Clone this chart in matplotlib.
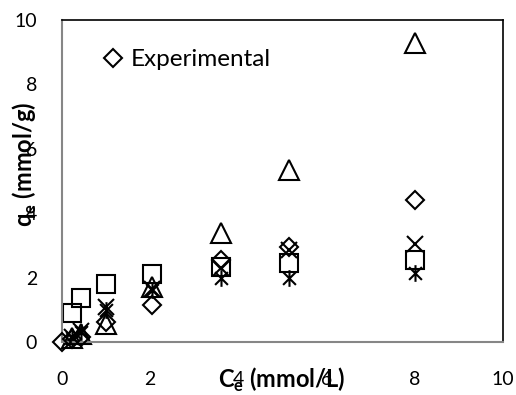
import numpy as np
import matplotlib.pyplot as plt
from matplotlib.path import Path
from matplotlib.lines import Line2D

plt.rcParams['font.family'] = ['Lato', 'DejaVu Sans']

# equilibrium concentration (mmol/L) and uptake (mmol/g)
ce = [0.0, 0.22, 0.42, 1.0, 2.05, 3.6, 5.15, 8.0]
qe_exp = [0.0, 0.08, 0.15, 0.62, 1.15, 2.55, 2.95, 4.4]
qe_square = [np.nan, 0.9, 1.37, 1.8, 2.12, 2.33, 2.45, 2.55]
qe_triangle = [np.nan, 0.12, 0.25, 0.55, 1.72, 3.38, 5.34, 9.3]
qe_cross = [np.nan, 0.15, 0.35, 1.1, 1.65, 2.3, 2.85, 3.05]
qe_star = [np.nan, 0.12, 0.3, 1.0, 1.6, 1.98, 1.98, 2.15]

xticks = [0, 2, 4, 6, 8, 10]
yticks = [0, 2, 4, 6, 8, 10]

# excel style asterisk: an x with a vertical bar through it
asterisk = Path([(-1, -1), (1, 1), (-1, 1), (1, -1), (0, -1.3), (0, 1.3)],
                [Path.MOVETO, Path.LINETO, Path.MOVETO, Path.LINETO, Path.MOVETO, Path.LINETO])

fig = plt.figure(figsize=(5.16, 3.95), dpi=100)
ax = fig.add_axes([0.1202, 0.1342, 0.8546, 0.8152])

mk = dict(linestyle='none', markerfacecolor='none', markeredgecolor='black', markeredgewidth=1.5)
ax.plot(ce, qe_square, marker='s', markersize=13, clip_on=False, **mk)
ax.plot(ce, qe_triangle, marker='^', markersize=14, clip_on=False, **mk)
ax.plot(ce, qe_cross, marker='x', markersize=12, color='black', linestyle='none',
        markeredgewidth=1.5, clip_on=False)
ax.plot(ce, qe_star, marker=asterisk, markersize=12, color='black', linestyle='none',
        markeredgewidth=1.5, clip_on=False)
ax.plot(ce, qe_exp, marker='D', markersize=9, clip_on=False, zorder=4, **mk)

ax.set_xlim(0, 10)
ax.set_ylim(0, 10)
ax.set_xticks(xticks)
ax.set_yticks(yticks)
ax.tick_params(length=0, labelsize=14, colors='black')
ax.tick_params(axis='x', pad=21)
ax.tick_params(axis='y', pad=18)

for side in ['left', 'bottom']:
    ax.spines[side].set_color('#868686')
    ax.spines[side].set_linewidth(1.5)
for side in ['top', 'right']:
    ax.spines[side].set_color('black')
    ax.spines[side].set_linewidth(1.2)

fig.text(282 / 516, 1 - 380 / 395, r'C$_\mathregular{e}$ (mmol/L)', fontsize=17, fontweight='bold',
         ha='center', va='center')
fig.text(25 / 516, 1 - 164 / 395, r'q$_\mathregular{e}$ (mmol/g)', fontsize=17, fontweight='bold',
         ha='center', va='center', rotation=90)

exp_handle = Line2D([], [], marker='D', markersize=9, **mk)
ax.legend(handles=[exp_handle], labels=['Experimental'], loc='center left',
          bbox_to_anchor=(0.045, 0.876), frameon=False, handlelength=0.8,
          handletextpad=0.3, fontsize=17.5)

fig.savefig('out.png', dpi=100)
